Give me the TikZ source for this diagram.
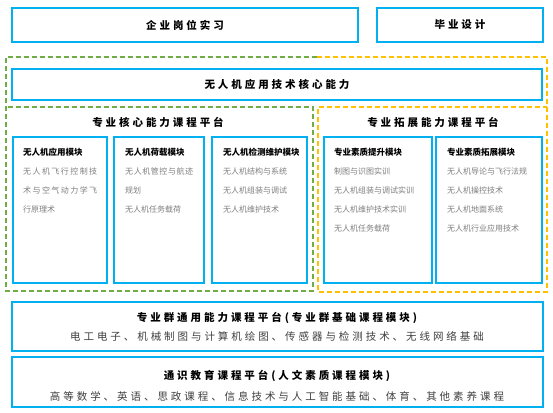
\documentclass[tikz,border=0pt]{standalone}
\usepackage{fontspec}
\setmainfont{Noto Sans CJK SC}
\newfontfamily\spaced{Noto Sans CJK SC}[LetterSpace=28]
\definecolor{boxblue}{HTML}{00B0F0}
\definecolor{dgreen}{HTML}{70AD47}
\definecolor{dorange}{HTML}{FFC000}
\definecolor{bodygray}{HTML}{7F7F7F}
\definecolor{darkgray}{HTML}{404040}
\begin{document}
\begin{tikzpicture}[x=1pt,y=-1pt,
  bluebox/.style={draw=boxblue,line width=2pt,inner sep=0pt},
  gdash/.style={draw=dgreen,line width=1.3pt,dash pattern=on 5pt off 3pt},
  odash/.style={draw=dorange,line width=1.3pt,dash pattern=on 5pt off 3pt},
  bigtitle/.style={font=\spaced\fontsize{10.5}{12}\selectfont\bfseries,inner sep=0pt},
  bigbody/.style={font=\spaced\fontsize{10.5}{12}\selectfont,text=darkgray,inner sep=0pt},
  modtitle/.style={font=\fontsize{8.5}{10}\selectfont\bfseries,anchor=west,inner sep=0pt},
  modbody/.style={font=\fontsize{8}{10}\selectfont,text=bodygray,anchor=west,inner sep=0pt}
]
\useasboundingbox (0,0) rectangle (553,412);
\fill[white] (0,0) rectangle (553,412);

% dashed frames
\draw[gdash] (317,57) -- (6,57) -- (6,291) -- (313,291) -- (313,107) -- (6,107);
\draw[odash] (317,57) -- (547,57) -- (547,292) -- (318,292) -- (318,107) -- (547,107);

% top boxes
\node[bluebox,minimum width=346pt,minimum height=34pt] (intern) at (185,25) {};
\node[bigtitle] (interntxt) at (intern.center) {企业岗位实习};
\node[bluebox,minimum width=166pt,minimum height=34pt] (grad) at (460,25) {};
\node[bigtitle] (gradtxt) at (grad.center) {毕业设计};

% core
\node[bluebox,minimum width=530pt,minimum height=31pt] (core) at (277,84.5) {};
\node[bigtitle] (coretxt) at (core.center) {无人机应用技术核心能力};

% platform titles
\node[bigtitle] (ptl) at (158,122) {专业核心能力课程平台};
\node[bigtitle] (ptr) at (433,122) {专业拓展能力课程平台};

% module boxes
\node[bluebox,minimum width=94pt,minimum height=146pt] (m1) at (60,210) {};
\node[bluebox,minimum width=90pt,minimum height=146pt] (m2) at (159,210) {};
\node[bluebox,minimum width=95pt,minimum height=146pt] (m3) at (259.5,210) {};
\node[bluebox,minimum width=108pt,minimum height=146pt] (m4) at (378,210) {};
\node[bluebox,minimum width=106pt,minimum height=146pt] (m5) at (489,210) {};

% module 1
\node[modtitle] (m1t) at (23,152) {无人机应用模块};
\node[modbody] (m1a) at (23,171) {\makebox[74pt][l]{无\hfill 人\hfill 机\hfill 飞\hfill 行\hfill 控\hfill 制\hfill 技}};
\node[modbody] (m1b) at (23,190) {\makebox[74pt][l]{术\hfill 与\hfill 空\hfill 气\hfill 动\hfill 力\hfill 学\hfill 飞}};
\node[modbody] (m1c) at (23,209) {行原理术};

% module 2
\node[modtitle] (m2t) at (125,152) {无人机荷载模块};
\node[modbody] (m2a) at (125,171) {\makebox[68pt][l]{无\hfill 人\hfill 机\hfill 管\hfill 控\hfill 与\hfill 航\hfill 迹}};
\node[modbody] (m2b) at (125,190) {规划};
\node[modbody] (m2c) at (125,209) {无人机任务载荷};

% module 3
\node[modtitle] (m3t) at (223,152) {无人机检测维护模块};
\node[modbody] (m3a) at (223,171) {无人机结构与系统};
\node[modbody] (m3b) at (223,190) {无人机组装与调试};
\node[modbody] (m3c) at (223,209) {无人机维护技术};

% module 4
\node[modtitle] (m4t) at (334,152) {专业素质提升模块};
\node[modbody] (m4a) at (334,171) {制图与识图实训};
\node[modbody] (m4b) at (334,190) {无人机组装与调试实训};
\node[modbody] (m4c) at (334,209) {无人机维护技术实训};
\node[modbody] (m4d) at (334,228) {无人机任务载荷};

% module 5
\node[modtitle] (m5t) at (447,152) {专业素质拓展模块};
\node[modbody] (m5a) at (447,171) {无人机导论与飞行法规};
\node[modbody] (m5b) at (447,190) {无人机操控技术};
\node[modbody] (m5c) at (447,209) {无人机地面系统};
\node[modbody] (m5d) at (447,228) {无人机行业应用技术};

% bottom boxes
\node[bluebox,minimum width=531pt,minimum height=49pt] (b1) at (277.5,326.5) {};
\node[bigtitle] (b1t) at (277,317.5) {专业群通用能力课程平台(专业群基础课程模块)};
\node[bigbody] (b1b) at (277,336) {电工电子、机械制图与计算机绘图、传感器与检测技术、无线网络基础};

\node[bluebox,minimum width=531pt,minimum height=50pt] (b2) at (277.5,382) {};
\node[bigtitle] (b2t) at (277,376) {通识教育课程平台(人文素质课程模块)};
\node[bigbody] (b2b) at (277,396) {高等数学、英语、思政课程、信息技术与人工智能基础、体育、其他素养课程};
\end{tikzpicture}
\end{document}
